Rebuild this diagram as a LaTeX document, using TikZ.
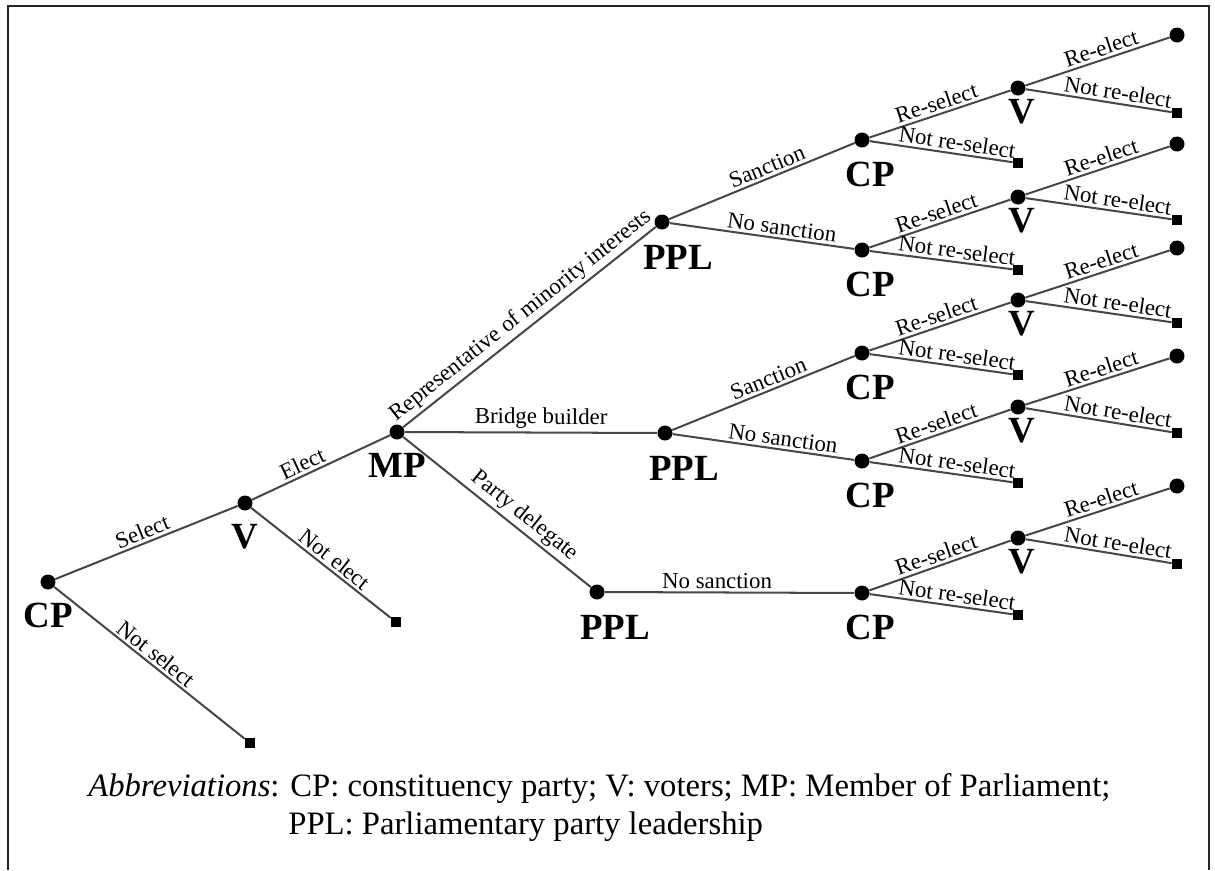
\documentclass[tikz,border=0pt]{standalone}
\usepackage{fontspec}
\setmainfont{Liberation Serif}
\usetikzlibrary{positioning}

\tikzset{
  dec/.style={circle, fill=black, inner sep=0pt, minimum size=0.3cm},
  fin/.style={rectangle, fill=black, inner sep=0pt, minimum size=0.2cm},
  branch/.style={draw=black!72, line width=1.15pt},
  who/.style={font=\fontsize{21}{21}\selectfont\bfseries, inner sep=2pt},
  act/.style={font=\fontsize{13}{13}\selectfont, sloped, above, inner sep=1.5pt},
}

\begin{document}
\begin{tikzpicture}[x=0.02cm, y=-0.02cm]
\useasboundingbox (0,0) rectangle (1215,870);

%%%%%
%% frame
%%%%%
\draw[line width=1.6pt, black!85] (8,870) -- (8,6) -- (1209,6) -- (1209,870);

%%%%%
%% CP, V, MP
%%%%%
\node[dec, label={[who, label distance=5.5pt]below:CP}] (cp0) at (48,582) {};
\node[dec, label={[who, label distance=5.5pt]below:V}] (v0) at (245,503) {};
\node[dec, label={[who, label distance=5.5pt]below:MP}] (mp) at (397,432) {};
\node[fin] (ns) at (250,743) {};
\node[fin] (ne) at (396,622) {};

\draw[branch] (cp0) -- node[act] {Select} (v0);
\draw[branch] (cp0) -- node[act] {Not select} (ns);
\draw[branch] (v0) -- node[act, pos=0.4] {Elect} (mp);
\draw[branch] (v0) -- node[act, pos=0.55] {Not elect} (ne);

%%%%%
%% PPL
%%%%%
\node[dec, label={[who, label distance=6.5pt, xshift=0.32cm]below:PPL}] (ppl1) at (662,222) {};
\node[dec, label={[who, label distance=6.5pt, xshift=0.38cm]below:PPL}] (ppl2) at (665,433) {};
\node[dec, label={[who, label distance=6.5pt, xshift=0.36cm]below:PPL}] (ppl3) at (597,592) {};

\draw[branch] (mp) -- node[act] {Representative of minority interests} (ppl1);
\draw[branch] (mp) -- node[act, pos=0.54] {Bridge builder} (ppl2);
\draw[branch] (mp) -- node[act, pos=0.6] {Party delegate} (ppl3);

%%%%%
%% CP again
%%%%%
\node[dec, label={[who, label distance=6pt, xshift=0.16cm]below:CP}] (cp1) at (862,140) {};
\node[dec, label={[who, label distance=6pt, xshift=0.16cm]below:CP}] (cp2) at (862,250) {};
\node[dec, label={[who, label distance=6pt, xshift=0.16cm]below:CP}] (cp3) at (862,353) {};
\node[dec, label={[who, label distance=6pt, xshift=0.16cm]below:CP}] (cp4) at (862,461) {};
\node[dec, label={[who, label distance=6pt, xshift=0.16cm]below:CP}] (cp5) at (862,593) {};

\draw[branch] (ppl1) -- node[act, pos=0.55] {Sanction} (cp1);
\draw[branch] (ppl1) -- node[act, pos=0.6] {No sanction} (cp2);
\draw[branch] (ppl2) -- node[act, pos=0.55] {Sanction} (cp3);
\draw[branch] (ppl2) -- node[act, pos=0.6] {No sanction} (cp4);
\draw[branch] (ppl3) -- node[act, pos=0.45] {No sanction} (cp5);

%%%%%
%% V again
%%%%%
\node[dec, label={[who, xshift=0.08cm]below:V}] (v1) at (1018,88) {};
\node[dec, label={[who, xshift=0.08cm]below:V}] (v2) at (1018,197) {};
\node[dec, label={[who, xshift=0.08cm]below:V}] (v3) at (1018,300) {};
\node[dec, label={[who, xshift=0.08cm]below:V}] (v4) at (1018,407) {};
\node[dec, label={[who, xshift=0.08cm]below:V}] (v5) at (1018,538) {};

\node[fin] (nrs1) at (1018,163) {};
\node[fin] (nrs2) at (1018,270) {};
\node[fin] (nrs3) at (1018,375) {};
\node[fin] (nrs4) at (1018,483) {};
\node[fin] (nrs5) at (1018,615) {};

\draw[branch] (cp1) -- node[act] {Re-select} (v1);
\draw[branch] (cp1) -- node[act, pos=0.6] {Not re-select} (nrs1);
\draw[branch] (cp2) -- node[act] {Re-select} (v2);
\draw[branch] (cp2) -- node[act, pos=0.6] {Not re-select} (nrs2);
\draw[branch] (cp3) -- node[act] {Re-select} (v3);
\draw[branch] (cp3) -- node[act, pos=0.6] {Not re-select} (nrs3);
\draw[branch] (cp4) -- node[act] {Re-select} (v4);
\draw[branch] (cp4) -- node[act, pos=0.6] {Not re-select} (nrs4);
\draw[branch] (cp5) -- node[act] {Re-select} (v5);
\draw[branch] (cp5) -- node[act, pos=0.6] {Not re-select} (nrs5);

%%%%%
%% final moves
%%%%%
\node[dec] (re1) at (1177,35) {};
\node[dec] (re2) at (1177,144) {};
\node[dec] (re3) at (1177,248) {};
\node[dec] (re4) at (1177,356) {};
\node[dec] (re5) at (1177,486) {};

\node[fin] (nre1) at (1177,113) {};
\node[fin] (nre2) at (1177,220) {};
\node[fin] (nre3) at (1177,323) {};
\node[fin] (nre4) at (1177,433) {};
\node[fin] (nre5) at (1177,564) {};

\draw[branch] (v1) -- node[act, pos=0.55] {Re-elect} (re1);
\draw[branch] (v1) -- node[act, pos=0.62] {Not re-elect} (nre1);
\draw[branch] (v2) -- node[act, pos=0.55] {Re-elect} (re2);
\draw[branch] (v2) -- node[act, pos=0.62] {Not re-elect} (nre2);
\draw[branch] (v3) -- node[act, pos=0.55] {Re-elect} (re3);
\draw[branch] (v3) -- node[act, pos=0.62] {Not re-elect} (nre3);
\draw[branch] (v4) -- node[act, pos=0.55] {Re-elect} (re4);
\draw[branch] (v4) -- node[act, pos=0.62] {Not re-elect} (nre4);
\draw[branch] (v5) -- node[act, pos=0.55] {Re-elect} (re5);
\draw[branch] (v5) -- node[act, pos=0.62] {Not re-elect} (nre5);

%%%%%
%% abbreviations
%%%%%
\node[anchor=base west, inner sep=0pt, font=\fontsize{18.6}{18.6}\selectfont] (abbr1) at (88,796)
  {\textit{Abbreviations}: CP: constituency party; V: voters; MP: Member of Parliament;};
\node[anchor=base west, inner sep=0pt, font=\fontsize{18.6}{18.6}\selectfont] (abbr2) at (288,834)
  {PPL: Parliamentary party leadership};

\end{tikzpicture}
\end{document}
